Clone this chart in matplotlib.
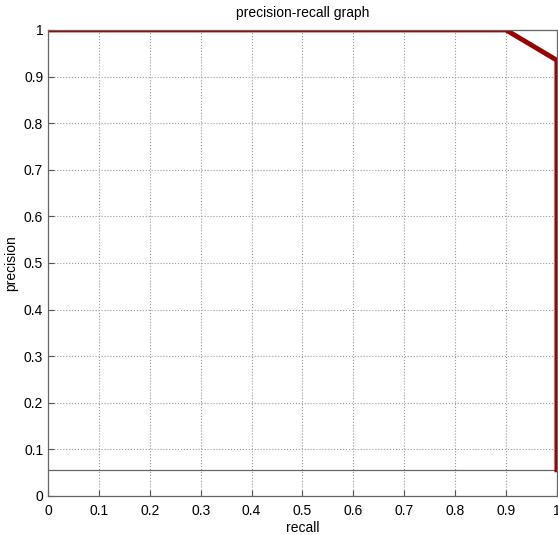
import matplotlib
matplotlib.use("Agg")
import matplotlib.pyplot as plt
import numpy as np

plt.rcParams.update({"font.family": ["Liberation Sans", "DejaVu Sans"], "font.size": 9})

# curva precision-recall
recall = [0.0, 0.9, 1.0, 1.0]
precision = [1.0, 1.0, 0.935, 0.056]
baseline = 0.056
ticks = np.arange(0, 1.01, 0.1)
tick_labels = ["0", "0.1", "0.2", "0.3", "0.4", "0.5", "0.6", "0.7", "0.8", "0.9", "1"]

fig = plt.figure(figsize=(5.58, 5.35), dpi=100)
ax = fig.add_axes([0.086, 0.073, 0.912, 0.871])

ax.axhline(baseline, color="#666666", lw=0.9)
ax.plot(recall, precision, color="#990000", lw=3.5, solid_joinstyle="miter")

ax.set_xlim(0, 1)
ax.set_ylim(0, 1)
ax.set_xticks(ticks)
ax.set_xticklabels(tick_labels)
ax.set_yticks(ticks)
ax.set_yticklabels(tick_labels)
ax.grid(True, linestyle=":", color="#999999", lw=0.8)
ax.tick_params(direction="in", length=4, color="#555555", labelsize=10)
ax.tick_params(axis="x", pad=6)
for s in ax.spines.values():
    s.set_color("#666666")
    s.set_linewidth(0.9)

ax.set_xlabel("recall", fontsize=10, labelpad=2)
ax.set_ylabel("precision", fontsize=10, labelpad=4)
ax.set_title("precision-recall graph", fontsize=10, pad=9)

fig.savefig("out.png", dpi=100)
